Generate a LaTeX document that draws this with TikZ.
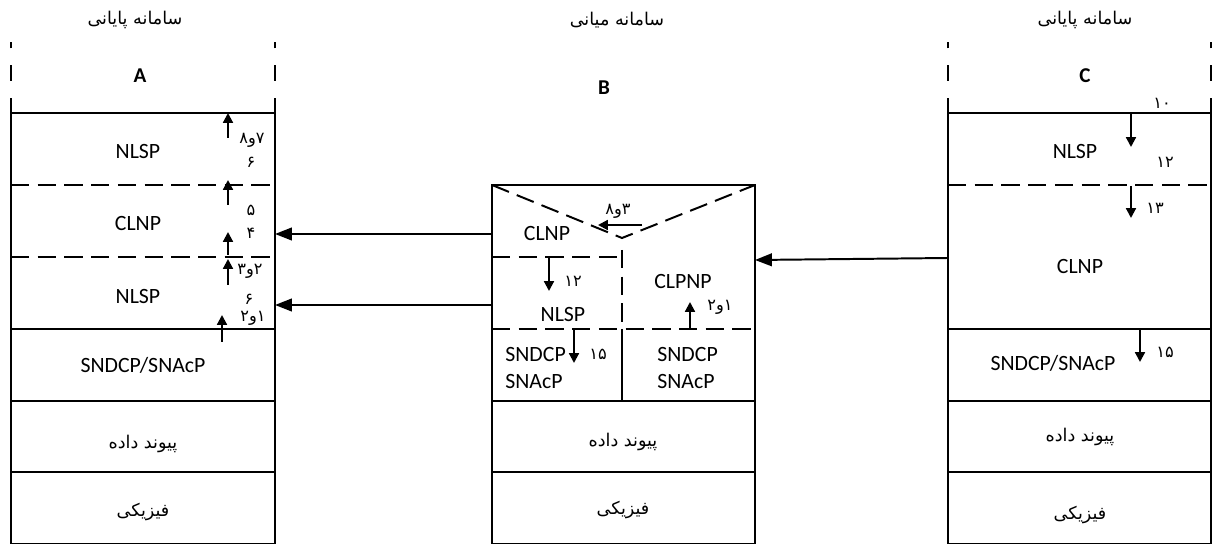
\documentclass[tikz,border=0pt]{standalone}
\usepackage{fontspec}
\setmainfont{Carlito}
\newfontfamily\persianfont[Script=Arabic]{DejaVu Sans}
\TeXXeTstate=1
\usetikzlibrary{arrows.meta}

\begin{document}
\begin{tikzpicture}[
  x=0.025cm, y=-0.025cm,
  line width=1.4pt,
  layer/.style={font=\fontsize{15.5}{19}\selectfont, align=left, inner sep=1pt},
  falayer/.style={font=\persianfont\fontsize{12.5}{14}\selectfont, inner sep=1pt},
  num/.style={font=\persianfont\fontsize{11.5}{13}\selectfont, inner sep=0pt},
  sysname/.style={font=\bfseries\fontsize{15}{17}\selectfont},
  dashsep/.style={dash pattern=on 13pt off 6pt},
  topdash/.style={dash pattern=on 11pt off 12pt},
  arr/.style={-{Triangle[length=12pt, width=9pt]}, line width=1.4pt},
  sarr/.style={-{Triangle[length=7pt, width=7pt]}, line width=1.5pt}
]
\useasboundingbox (0,0) rectangle (1213,544);

% End system A
\node[falayer] (titleA) at (135,20) {\beginR سامانه پایانی\endR};
\node[sysname] (nameA) at (140,76) {A};
\draw[topdash] (11,113) -- (11,42);
\draw[topdash] (275,113) -- (275,42);
\draw (11,113) rectangle (275,544);
\draw[dashsep] (11,185) -- (275,185);
\draw[dashsep] (11,257) -- (275,257);
\draw (11,329) -- (275,329);
\draw (11,401) -- (275,401);
\draw (11,472) -- (275,472);

\node[layer] (aNLSPtop) at (138,152) {NLSP};
\node[layer] (aCLNP) at (138,224) {CLNP};
\node[layer] (aNLSPlow) at (138,297) {NLSP};
\node[layer] (aSN) at (143,365) {SNDCP/SNAcP};
\node[falayer] (aDL) at (143,444) {\beginR پیوند داده\endR};
\node[falayer] (aPH) at (143,512) {فیزیکی};

% steps going up in A
\coordinate (a1s) at (228,138); \coordinate (a1e) at (228,113);
\coordinate (a2s) at (228,205); \coordinate (a2e) at (228,180);
\coordinate (a3s) at (228,255); \coordinate (a3e) at (228,232);
\coordinate (a4s) at (228,285); \coordinate (a4e) at (228,259);
\coordinate (a5s) at (222,342); \coordinate (a5e) at (222,315);
\foreach \s/\e in {a1s/a1e, a2s/a2e, a3s/a3e, a4s/a4e, a5s/a5e}
  \draw[sarr] (\s) -- (\e);
\node[num] (n78) at (252,140) {\beginR ۷و۸\endR};
\node[num] (n6a) at (251,162) {۶};
\node[num] (n5) at (251,210) {۵};
\node[num] (n4) at (251,233) {۴};
\node[num] (n23) at (250,271) {\beginR ۲و۳\endR};
\node[num] (n6b) at (249,299) {۶};
\node[num] (n12a) at (253,318) {\beginR ۱و۲\endR};

% Intermediate system B
\node[falayer] (titleB) at (617,20) {\beginR سامانه میانی\endR};
\node[sysname] (nameB) at (604,88) {B};
\draw (492,185) rectangle (755,544);
\draw[dashsep] (492,185) -- (622,238) -- (755,185);
\draw[dashsep] (492,257) -- (622,257);
\draw[dashsep] (622,250) -- (622,329);
\draw[dashsep] (492,329) -- (755,329);
\draw (622,329) -- (622,401);
\draw (492,401) -- (755,401);
\draw (492,472) -- (755,472);

\node[layer] (bCLNP) at (547,234) {CLNP};
\node[layer] (bNLSP) at (563,315) {NLSP};
\node[layer, anchor=west] (bSNleft) at (503,368) {SNDCP\\SNAcP};
\node[layer] (bCLPNP) at (683,282) {CLPNP};
\node[layer, anchor=west] (bSNright) at (655,368) {SNDCP\\SNAcP};
\node[falayer] (bDL) at (623,442) {\beginR پیوند داده\endR};
\node[falayer] (bPH) at (623,510) {فیزیکی};

% steps inside B
\coordinate (b1s) at (642,225); \coordinate (b1e) at (598,225);
\coordinate (b2s) at (549,258); \coordinate (b2e) at (549,291);
\coordinate (b3s) at (574,330); \coordinate (b3e) at (574,363);
\coordinate (b4s) at (690,330); \coordinate (b4e) at (690,302);
\foreach \s/\e in {b1s/b1e, b2s/b2e, b3s/b3e, b4s/b4e}
  \draw[sarr] (\s) -- (\e);
\node[num] (n38) at (618,211) {\beginR ۳و۸\endR};
\node[num] (n12b) at (573,281) {۱۲};
\node[num] (n15b) at (598,354) {۱۵};
\node[num] (n12c) at (720,307) {\beginR ۱و۲\endR};

% End system C
\node[falayer] (titleC) at (1085,20) {\beginR سامانه پایانی\endR};
\node[sysname] (nameC) at (1085,76) {C};
\draw[topdash] (948,113) -- (948,42);
\draw[topdash] (1211,113) -- (1211,42);
\draw (948,113) rectangle (1211,544);
\draw[dashsep] (948,185) -- (1211,185);
\draw (948,329) -- (1211,329);
\draw (948,401) -- (1211,401);
\draw (948,472) -- (1211,472);

\node[layer] (cNLSP) at (1075,152) {NLSP};
\node[layer] (cCLNP) at (1080,267) {CLNP};
\node[layer] (cSN) at (1053,363) {SNDCP/SNAcP};
\node[falayer] (cDL) at (1080,437) {\beginR پیوند داده\endR};
\node[falayer] (cPH) at (1080,515) {فیزیکی};

% steps going down in C
\coordinate (c1s) at (1131,113); \coordinate (c1e) at (1131,147);
\coordinate (c2s) at (1131,186); \coordinate (c2e) at (1131,218);
\coordinate (c3s) at (1140,330); \coordinate (c3e) at (1140,362);
\foreach \s/\e in {c1s/c1e, c2s/c2e, c3s/c3e}
  \draw[sarr] (\s) -- (\e);
\node[num] (n10) at (1162,103) {۱۰};
\node[num] (n12d) at (1165,162) {۱۲};
\node[num] (n13) at (1155,208) {۱۳};
\node[num] (n15c) at (1165,352) {۱۵};

% links between systems
\coordinate (bOutTop) at (492,234); \coordinate (aInTop) at (275,234);
\coordinate (bOutLow) at (492,305); \coordinate (aInLow) at (275,305);
\coordinate (cOut) at (948,258);    \coordinate (bIn) at (755,260);
\draw[arr] (bOutTop) -- (aInTop);
\draw[arr] (bOutLow) -- (aInLow);
\draw[arr] (cOut) -- (bIn);

\end{tikzpicture}
\end{document}
